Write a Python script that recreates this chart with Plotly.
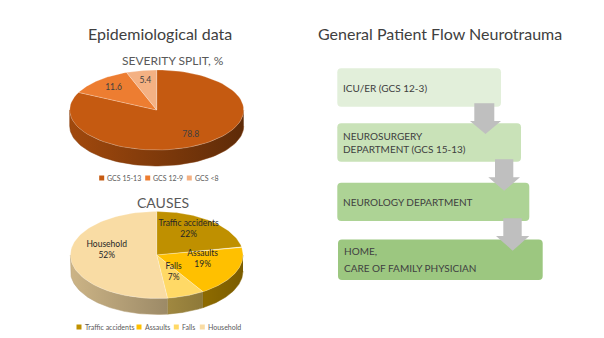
import numpy as np
import plotly.graph_objects as go

# ---------------- data ----------------
severity_labels = ["GCS 15-13", "GCS 12-9", "GCS <8"]
severity_values = [78.8, 11.6, 5.4]
severity_colors = ["#C55A11", "#ED7D31", "#F4B183"]

causes_labels = ["Traffic accidents", "Assaults", "Falls", "Household"]
causes_values = [22, 19, 7, 52]
causes_text = ["Traffic accidents<br>22%", "Assaults<br>19%", "Falls<br>7%", "Household<br>52%"]
causes_colors = ["#BF9000", "#FFC000", "#FFD966", "#F9DCA4"]

flow_steps = [["ICU/ER (GCS 12-3)"],
              ["NEUROSURGERY", "DEPARTMENT (GCS 15-13)"],
              ["NEUROLOGY DEPARTMENT"],
              ["HOME,", "CARE OF FAMILY PHYSICIAN"]]
flow_colors = ["#E2EFDA", "#C9E2B8", "#ADD395", "#9CC780"]

FONT = "Lato"
W, H = 604, 338

fig = go.Figure()


def hex2rgb(h):
    h = h.lstrip("#")
    return tuple(int(h[i:i + 2], 16) for i in (0, 2, 4))


def shade(h, f):
    r, g, b = hex2rgb(h)
    return "rgb(%d,%d,%d)" % (r * f, g * f, b * f)


def pie3d(values, colors, cx, cy, a, b, t, labels, r_lab, dy_lab, lab_font):
    total = float(sum(values))
    bounds = np.concatenate([[0], np.cumsum(values) / total * 360.0])

    def fx(x):  # side shading: lighter on the left, darker on the right
        return 0.82 - 0.34 * (x - (cx - a)) / (2 * a)

    # sides (front half, 90..270 deg)
    for i, col in enumerate(colors):
        s, e = max(bounds[i], 90.0), min(bounds[i + 1], 270.0)
        if e <= s:
            continue
        th = np.radians(np.linspace(s, e, 80))
        xt = cx + a * np.sin(th)
        yt = cy - b * np.cos(th)
        xs = np.concatenate([xt, xt[::-1]])
        ys = np.concatenate([yt, (yt + t)[::-1]])
        x_lo, x_hi = xt.min(), xt.max()
        fig.add_trace(go.Scatter(x=xs, y=ys, fill="toself", mode="lines",
                                 line=dict(width=0.5, color=shade(col, fx((x_lo + x_hi) / 2))),
                                 fillgradient=dict(type="horizontal",
                                                   colorscale=[[0, shade(col, fx(x_lo))],
                                                               [1, shade(col, fx(x_hi))]]),
                                 hoverinfo="skip", showlegend=False))
    # faces
    for i, col in enumerate(colors):
        th = np.radians(np.linspace(bounds[i], bounds[i + 1], 80))
        xs = np.concatenate([[cx], cx + a * np.sin(th), [cx]])
        ys = np.concatenate([[cy], cy - b * np.cos(th), [cy]])
        fig.add_trace(go.Scatter(x=xs, y=ys, fill="toself", mode="lines",
                                 line=dict(width=0.6, color="rgba(255,255,255,0.4)"),
                                 fillcolor=col, hoverinfo="skip", showlegend=False))
    # labels
    mids = np.radians((bounds[:-1] + bounds[1:]) / 2)
    fig.add_trace(go.Scatter(x=cx + r_lab * a * np.sin(mids),
                             y=cy - r_lab * b * np.cos(mids) + dy_lab,
                             mode="text", text=labels, textfont=lab_font,
                             hoverinfo="skip", showlegend=False))


pie3d(severity_values, severity_colors, 156.7, 110, 87, 40, 16,
      ["%.1f" % v for v in severity_values], 0.74, 0,
      dict(family=FONT, size=8.5, color="#404040"))
pie3d(causes_values, causes_colors, 156.7, 255, 86.3, 43.5, 16,
      causes_text, 0.58, -6,
      dict(family=FONT, size=8.5, color="#262626"))

annotations = []

# legends
sev_leg_x = [101.7, 147.7, 189.3]
cau_leg_x = [79, 139, 176.3, 202.3]
fig.add_trace(go.Scatter(x=sev_leg_x, y=[178] * 3, mode="markers",
                         marker=dict(symbol="square", size=5, color=severity_colors),
                         hoverinfo="skip", showlegend=False))
fig.add_trace(go.Scatter(x=cau_leg_x, y=[327] * 4, mode="markers",
                         marker=dict(symbol="square", size=5, color=causes_colors),
                         hoverinfo="skip", showlegend=False))
for xs_, ys_, labs in ((sev_leg_x, 178, severity_labels), (cau_leg_x, 327, causes_labels)):
    for x_, lab in zip(xs_, labs):
        annotations.append(dict(x=x_ + 3.5, y=ys_, xref="x", yref="y", text=lab, showarrow=False,
                                xanchor="left", yanchor="middle",
                                font=dict(family=FONT, size=7, color="#595959")))

shapes = []


def rrect(x0, y0, x1, y1, r):
    return ("M %f,%f L %f,%f Q %f,%f %f,%f L %f,%f Q %f,%f %f,%f L %f,%f Q %f,%f %f,%f "
            "L %f,%f Q %f,%f %f,%f Z" % (
                x0 + r, y0, x1 - r, y0, x1, y0, x1, y0 + r, x1, y1 - r, x1, y1, x1 - r, y1,
                x0 + r, y1, x0, y1, x0, y1 - r, x0, y0 + r, x0, y0, x0 + r, y0))


boxes = [(337.3, 68.3, 501, 106.7), (337.3, 123.3, 521, 161.7),
         (337.3, 182.7, 529.3, 221), (338, 239.5, 542.7, 280)]
text_y = [[87.7], [136, 149.3], [201.7], [251, 268.3]]
for (x0, y0, x1, y1), col, lines, tys in zip(boxes, flow_colors, flow_steps, text_y):
    shapes.append(dict(type="path", path=rrect(x0, y0, x1, y1, 4), xref="x", yref="y",
                       fillcolor=col, line=dict(width=0), layer="above"))
    for txt, ty in zip(lines, tys):
        annotations.append(dict(x=x0 + 3.5, y=ty, xref="x", yref="y", text=txt, showarrow=False,
                                xanchor="left", yanchor="middle", align="left",
                                font=dict(family=FONT, size=10, color="#404040")))

arrows = [(470, 501, 474.3, 494.3, 103.3, 121, 134),
          (488.3, 520, 495, 513.3, 159.3, 177.3, 190.7),
          (496, 529.3, 503.3, 521.7, 218.3, 236, 250.7)]
for hx0, hx1, sx0, sx1, ytop, yh, ytip in arrows:
    p = "M %f,%f L %f,%f L %f,%f L %f,%f L %f,%f L %f,%f L %f,%f Z" % (
        sx0, ytop, sx1, ytop, sx1, yh, hx1, yh, (hx0 + hx1) / 2, ytip, hx0, yh, sx0, yh)
    shapes.append(dict(type="path", path=p, xref="x", yref="y", fillcolor="#BFBFBF",
                       line=dict(width=0), layer="above"))

# titles
titles = [
    dict(x=160, y=33, text="Epidemiological data", font=dict(family=FONT, size=16, color="#404040")),
    dict(x=440, y=33, text="General Patient Flow Neurotrauma", font=dict(family=FONT, size=16, color="#404040")),
    dict(x=172.5, y=60, text="SEVERITY SPLIT, %", font=dict(family=FONT, size=12, color="#595959")),
    dict(x=163, y=202, text="CAUSES", font=dict(family=FONT, size=14, color="#595959")),
]
for an in titles:
    an.update(xref="x", yref="y", showarrow=False, xanchor="center", yanchor="middle")
annotations += titles

fig.update_layout(
    width=W, height=H, margin=dict(l=0, r=0, t=0, b=0),
    paper_bgcolor="white", plot_bgcolor="white",
    xaxis=dict(range=[0, W], visible=False, fixedrange=True),
    yaxis=dict(range=[H, 0], visible=False, fixedrange=True),
    shapes=shapes, annotations=annotations, showlegend=False,
)
fig.write_html("out.html")
